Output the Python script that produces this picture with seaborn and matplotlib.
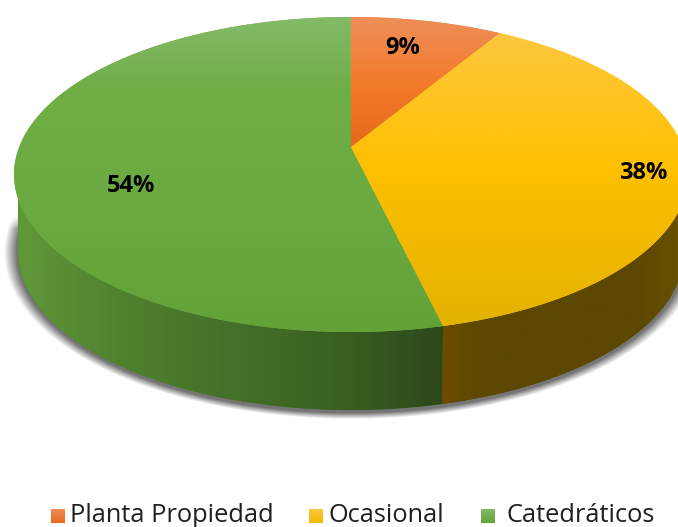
import numpy as np
import matplotlib
matplotlib.use("Agg")
import matplotlib.pyplot as plt
from matplotlib.patches import Polygon
import seaborn as sns

# ---- data ----
categories = ["Planta Propiedad", "Ocasional", "Catedráticos"]
shares = [8.6, 37.7, 53.7]
base_colors = ["#ED7D31", "#FFC000", "#70AD47"]

# ---- style / geometry ----
sns.set_theme(style="white")
plt.rcParams["font.family"] = ["Open Sans", "DejaVu Sans"]
palette = sns.color_palette(base_colors)

W, H = 678, 527
fig = plt.figure(figsize=(W / 100, H / 100), dpi=100)
ax = fig.add_axes([0, 0, 1, 1])
ax.set_axis_off()

CX, CY = 351, 147
PERSP, SCALE_Y, SCALE_X = 0.1746, 152.7, 331.8
DEPTH, BOTTOM_SCALE = 78, 0.988
FRONT_START, FRONT_END = 100.0, 260.0

def rim(angles_deg):
    t = np.radians(np.asarray(angles_deg, dtype=float))
    u, v = np.sin(t), np.cos(t)
    w = 1 + PERSP * v
    return CX + SCALE_X * u / w, CY - SCALE_Y * v / w

def gradient(stops, vertical=True):
    pos = [s[0] for s in stops]
    n = 256
    grid = np.linspace(pos[0], pos[-1], n)
    rgb = np.stack([np.interp(grid, pos, [s[1][i] for s in stops]) for i in range(3)], axis=-1) / 255
    return rgb[:, None, :] if vertical else rgb[None, :, :]

def fill(poly_xy, img, extent, color, z):
    patch = Polygon(poly_xy, closed=True, facecolor=color, edgecolor="none", zorder=z)
    ax.add_patch(patch)
    im = ax.imshow(img, extent=extent, aspect="auto", interpolation="bilinear", zorder=z + 0.1)
    im.set_clip_path(patch)

# cumulative clockwise angles from the top
edges = np.concatenate([[0], np.cumsum(shares)]) / np.sum(shares) * 360

top_stops = [
    [(17, (238, 142, 90)), (85, (243, 122, 40)), (147, (230, 105, 28))],
    [(17, (253, 200, 70)), (70, (254, 198, 45)), (170, (254, 192, 0)), (332, (226, 178, 0))],
    [(17, (132, 186, 104)), (90, (112, 174, 70)), (200, (106, 170, 64)), (332, (98, 162, 56))],
]
wall_stops = [
    None,
    [(425, (108, 76, 0)), (441, (108, 76, 0)), (480, (92, 72, 0)), (640, (92, 72, 0)), (690, (105, 84, 0))],
    [(18, (96, 152, 56)), (120, (80, 130, 46)), (220, (70, 114, 40)), (330, (58, 98, 34)), (445, (44, 72, 26))],
]
wall_base = [None, (0.36, 0.28, 0.0), (0.27, 0.44, 0.16)]

# soft drop shadow under the wall
yy, xx = np.mgrid[0:H, 0:W]
bx, by = CX, CY + 105
dist = (np.sqrt(((xx - bx) / 337.0) ** 2 + ((yy - by) / 161.5) ** 2) - 1) * 160
alpha = np.clip(1 - (dist + 1) / 6, 0, 1) * 0.72 * np.clip((yy - 214) / 14, 0, 1)
shadow = np.zeros((H, W, 4))
shadow[..., :3] = 0.25
shadow[..., 3] = alpha
ax.imshow(shadow, extent=(0, W, H, 0), aspect="auto", zorder=0.5, interpolation="bilinear")

# side wall
for i in (2, 1):
    a0 = max(edges[i], FRONT_START)
    a1 = min(edges[i + 1], FRONT_END)
    arc = np.linspace(a0, a1, 200)
    x, y = rim(arc)
    xb = CX + (x - CX) * BOTTOM_SCALE
    yb = y + DEPTH
    lo, hi = CX - 337 * BOTTOM_SCALE, CX + 337 * BOTTOM_SCALE
    x_clipped = np.clip(x, lo, hi)
    poly = np.column_stack([np.r_[x_clipped, xb[::-1]], np.r_[y, yb[::-1]]])
    stops = wall_stops[i]
    fill(poly, gradient(stops, vertical=False),
         (stops[0][0], stops[-1][0], 420, 160), wall_base[i], 1)

# top face
for i in (2, 1, 0):
    arc = np.linspace(edges[i], edges[i + 1], 300)
    x, y = rim(arc)
    poly = np.column_stack([np.r_[CX, x], np.r_[CY, y]])
    stops = top_stops[i]
    fill(poly, gradient(stops), (0, W, stops[-1][0], stops[0][0]), palette[i], 3)

# percentage labels
label_xy = [(403, 48), (643, 173), (131, 186)]
for share, (lx, ly) in zip(shares, label_xy):
    ax.text(lx, ly, f"{round(share)}%", ha="center", va="center", fontsize=17,
            fontweight="bold", color="black", zorder=6)

# legend
swatch_x = [51, 309, 481]
text_x = [70, 328, 507]
legend_light = [(240, 140, 90), (253, 200, 70), (132, 186, 104)]
legend_dark = [(232, 106, 28), (240, 186, 0), (100, 164, 58)]
for i, name in enumerate(categories):
    img = gradient([(0, legend_light[i]), (1, legend_dark[i])])
    ax.imshow(img, extent=(swatch_x[i], swatch_x[i] + 14, 523, 509), aspect="auto", zorder=5)
    ax.text(text_x[i], 515, name, ha="left", va="center", fontsize=18.3,
            color="#1f1f1f", zorder=6)

ax.set_xlim(0, W)
ax.set_ylim(H, 0)
fig.savefig("out.png", dpi=100, facecolor="white")
